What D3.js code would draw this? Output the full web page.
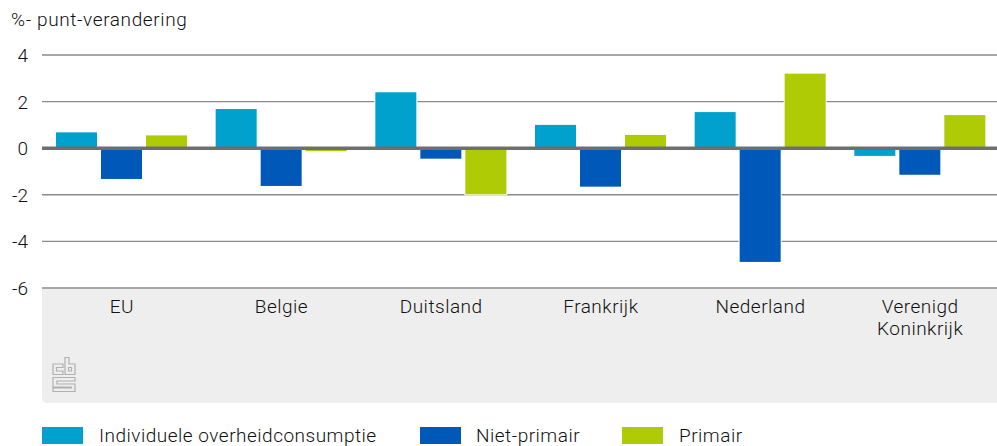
<!DOCTYPE html>
<html><head><meta charset="utf-8">
<script src="https://cdn.jsdelivr.net/npm/d3@7"></script>
<style>html,body{margin:0;background:#fff;overflow:hidden}svg{display:block}text{font-family:Roboto,"Noto Sans",sans-serif;font-weight:300;fill:#111}</style>
</head><body><svg id="c" width="997" height="446"></svg>
<script>
const categories=[["EU"],["Belgie"],["Duitsland"],["Frankrijk"],["Nederland"],["Verenigd","Koninkrijk"]];
const seriesNames=["Individuele overheidconsumptie","Niet-primair","Primair"];
const seriesColors=["#00a1cd","#0058b8","#afcb05"];
const individuele=[0.68,1.68,2.4,1.0,1.55,-0.33];
const nietPrimair=[-1.32,-1.62,-0.45,-1.65,-4.88,-1.14];
const primair=[0.55,-0.13,-1.98,0.57,3.2,1.42];
const yTicks=[4,2,0,-2,-4,-6];
const yTitle="%- punt-verandering";
const allSeries=[individuele,nietPrimair,primair];

const svg=d3.select("#c");
const L=42,R=1000,W=997;
const y=d3.scaleLinear().domain([-6,4]).range([288,55]);
const x0=d3.scaleBand().domain(categories.map((d,i)=>i)).range([L,R]);
const x1=d3.scaleBand().domain([0,1,2]).range([14,145]).paddingInner(4/45).paddingOuter(0);

svg.append("path").attr("d",`M${L},289H${W}V403H${L+6}Q${L},403 ${L},397Z`).attr("fill","#eeeeee");

svg.append("g").selectAll("line").data(yTicks.filter(d=>d!==0)).join("line")
  .attr("x1",L).attr("x2",W).attr("y1",d=>y(d)).attr("y2",d=>y(d))
  .attr("stroke","#8a8a8a").attr("stroke-width",1.4);

categories.forEach((c,i)=>{
  const g=svg.append("g").attr("transform",`translate(${x0(i)},0)`);
  allSeries.forEach((s,j)=>{
    const v=s[i];
    g.append("rect").attr("x",x1(j)-1).attr("width",x1.bandwidth()+2)
      .attr("y",Math.min(y(v),y(0))-1).attr("height",Math.abs(y(v)-y(0))+2).attr("fill","#fff");
    g.append("rect").attr("x",x1(j)).attr("width",x1.bandwidth())
      .attr("y",Math.min(y(v),y(0))).attr("height",Math.abs(y(v)-y(0))).attr("fill",seriesColors[j]);
  });
});

svg.append("line").attr("x1",L).attr("x2",W).attr("y1",y(0)).attr("y2",y(0)).attr("stroke","#6e6e6e").attr("stroke-width",3.6);

svg.append("g").selectAll("text").data(yTicks).join("text")
  .attr("x",28).attr("y",d=>y(d)+7).attr("text-anchor","end").attr("font-size",19).text(d=>d);
svg.append("text").attr("x",11).attr("y",26).attr("font-size",19).attr("letter-spacing",0.62).text(yTitle);

categories.forEach((c,i)=>{
  const t=svg.append("text").attr("text-anchor","middle").attr("font-size",19).attr("letter-spacing",0.5);
  c.forEach((l,k)=>t.append("tspan").attr("x",x0(i)+x0.bandwidth()/2).attr("y",313+k*22).text(l));
});

const logo=svg.append("g").attr("transform","translate(52,357)").attr("fill","none").attr("stroke","#b0b0b0").attr("stroke-width",1.2);
logo.append("path").attr("d","M11,7H1V17.5H11V14H4.5V10.5H11Z");
logo.append("path").attr("d","M13,17.5V0.5H17V7H23V17.5ZM16.5,10.5V14H19.5V10.5Z");
logo.append("path").attr("d","M1,20.5H23V24H5V27H23V34.5H1V31H19.5V30H1Z");

const lx=[42,420,622],tx=[99,476,679];
seriesNames.forEach((n,i)=>{
  svg.append("rect").attr("x",lx[i]).attr("y",427).attr("width",41).attr("height",17).attr("fill",seriesColors[i]);
  svg.append("text").attr("x",tx[i]).attr("y",442).attr("font-size",19).attr("letter-spacing",0.5).text(n);
});
</script></body></html>
